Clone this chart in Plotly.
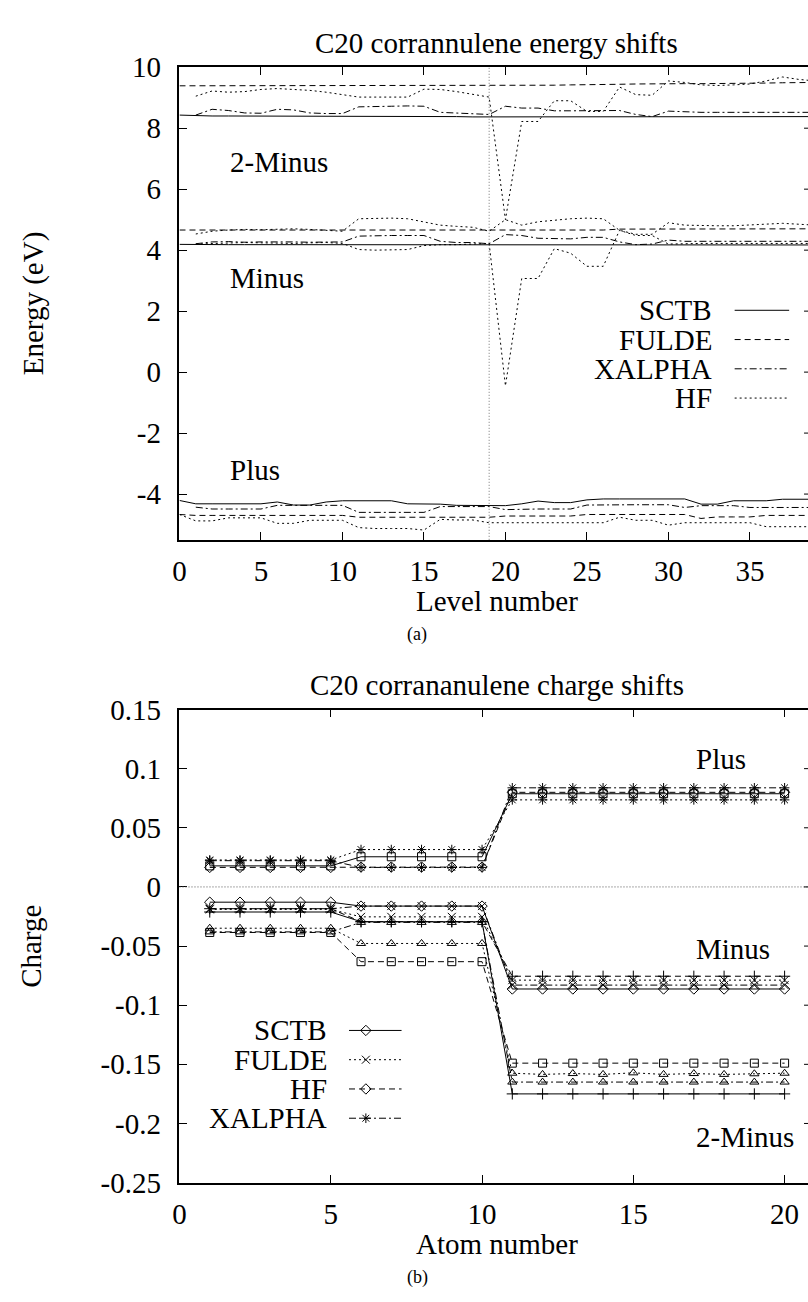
import plotly.graph_objects as go

FONT = "Liberation Serif, Times New Roman, serif"
FS = 29
W, H = 808, 1302

# ---------------- top panel data: energy shifts (eV) vs level number ----------------
levels = list(range(40))

sctb_plus = [-4.21, -4.32, -4.32, -4.32, -4.32, -4.32, -4.26, -4.36, -4.36, -4.26,
             -4.22, -4.22, -4.22, -4.22, -4.32, -4.33, -4.33, -4.37, -4.37, -4.37,
             -4.38, -4.32, -4.23, -4.28, -4.28, -4.19, -4.16, -4.16, -4.16, -4.16,
             -4.16, -4.16, -4.33, -4.33, -4.22, -4.22, -4.22, -4.17, -4.17, -4.17]
fulde_plus = [-4.67, -4.70, -4.70, -4.70, -4.70, -4.70, -4.70, -4.70, -4.70, -4.70,
              -4.70, -4.76, -4.76, -4.76, -4.76, -4.76, -4.76, -4.76, -4.76, -4.76,
              -4.72, -4.72, -4.72, -4.72, -4.72, -4.67, -4.67, -4.67, -4.67, -4.67,
              -4.67, -4.67, -4.80, -4.75, -4.75, -4.75, -4.70, -4.70, -4.70, -4.70]
xalpha_plus = [None, -4.43, -4.49, -4.49, -4.49, -4.49, -4.37, -4.37, -4.37, -4.37,
               -4.37, -4.60, -4.60, -4.60, -4.60, -4.60, -4.41, -4.41, -4.41, -4.41,
               -4.51, -4.49, -4.49, -4.49, -4.49, -4.36, -4.35, -4.35, -4.35, -4.35,
               -4.35, -4.44, -4.38, -4.38, -4.38, -4.44, -4.44, -4.44, -4.44, -4.44]
hf_plus = [-4.67, -4.88, -4.88, -4.78, -4.78, -4.78, -4.96, -4.96, -4.86, -4.86,
           -4.86, -5.10, -5.13, -5.13, -5.13, -5.18, -4.83, -4.85, -4.85, -4.94,
           -4.94, -4.94, -4.94, -4.94, -4.94, -4.94, -4.94, -4.76, -4.86, -4.86,
           -5.02, -4.94, -4.94, -4.94, -4.94, -4.94, -5.07, -5.07, -5.07, -5.07]

sctb_minus = [4.19, 4.18, 4.18, 4.18, 4.18, 4.18, 4.18, 4.18, 4.18, 4.18,
              4.18, 4.18, 4.18, 4.17, 4.17, 4.17, 4.17, 4.17, 4.17, 4.17,
              4.16, 4.16, 4.16, 4.16, 4.16, 4.17, 4.17, 4.17, 4.17, 4.17,
              4.17, 4.17, 4.17, 4.17, 4.17, 4.17, 4.17, 4.17, 4.17, 4.17]
fulde_minus = [4.66, 4.66, 4.66, 4.66, 4.66, 4.66, 4.66, 4.66, 4.66, 4.66,
               4.66, 4.66, 4.66, 4.66, 4.66, 4.66, 4.66, 4.66, 4.66, 4.66,
               4.66, 4.66, 4.66, 4.66, 4.66, 4.66, 4.66, 4.69, 4.69, 4.69,
               4.69, 4.69, 4.69, 4.69, 4.69, 4.69, 4.70, 4.70, 4.70, 4.70]
xalpha_minus = [None, 4.21, 4.27, 4.28, 4.26, 4.27, 4.28, 4.27, 4.26, 4.27,
                4.27, 4.46, 4.48, 4.48, 4.48, 4.48, 4.29, 4.25, 4.25, 4.21,
                4.51, 4.48, 4.39, 4.39, 4.37, 4.42, 4.42, 4.27, 4.18, 4.20,
                4.33, 4.29, 4.29, 4.29, 4.29, 4.29, 4.29, 4.29, 4.29, 4.29]
hf_minus = [None, 4.20, 4.22, 4.24, 4.25, 4.24, 4.22, 4.22, 4.24, 4.25,
            4.22, 4.02, 4.00, 4.00, 4.02, 4.15, 4.18, 4.18, 4.20, 4.22,
            -0.45, 3.07, 3.07, 4.05, 3.90, 3.47, 3.47, 4.65, 4.48, 4.48,
            4.20, 4.22, 4.22, 4.22, 4.22, 4.22, 4.22, 4.22, 4.22, 4.22]
hf_minus_upper = [None, 4.53, 4.62, 4.66, 4.68, 4.67, 4.69, 4.70, 4.68, 4.66,
                  4.62, 5.03, 5.05, 5.05, 5.03, 4.93, 4.82, 4.78, 4.75, 4.62,
                  5.00, 4.82, 4.93, 4.98, 5.03, 5.05, 5.03, 4.65, 4.52, 4.52,
                  4.90, 4.82, 4.80, 4.80, 4.80, 4.82, 4.85, 4.88, 4.85, 4.82]

sctb_2minus = [8.43, 8.41, 8.40, 8.40, 8.40, 8.39, 8.39, 8.39, 8.39, 8.39,
               8.38, 8.39, 8.39, 8.39, 8.38, 8.38, 8.38, 8.38, 8.37, 8.37,
               8.36, 8.36, 8.36, 8.36, 8.36, 8.36, 8.36, 8.36, 8.36, 8.36,
               8.36, 8.37, 8.37, 8.37, 8.37, 8.38, 8.38, 8.38, 8.38, 8.38]
fulde_2minus = [9.39, 9.39, 9.39, 9.39, 9.39, 9.39, 9.39, 9.39, 9.39, 9.39,
                9.39, 9.39, 9.39, 9.39, 9.39, 9.39, 9.39, 9.39, 9.39, 9.39,
                9.40, 9.40, 9.41, 9.41, 9.42, 9.42, 9.43, 9.44, 9.45, 9.46,
                9.46, 9.46, 9.46, 9.46, 9.46, 9.47, 9.48, 9.49, 9.49, 9.50]
xalpha_2minus = [None, 8.43, 8.62, 8.58, 8.50, 8.49, 8.62, 8.60, 8.50, 8.48,
                 8.48, 8.70, 8.72, 8.72, 8.73, 8.72, 8.52, 8.50, 8.49, 8.45,
                 8.72, 8.66, 8.66, 8.57, 8.57, 8.57, 8.57, 8.58, 8.45, 8.38,
                 8.56, 8.53, 8.52, 8.52, 8.52, 8.52, 8.52, 8.52, 8.52, 8.52]
hf_2minus = [None, 9.05, 9.22, 9.18, 9.20, 9.27, 9.30, 9.27, 9.24, 9.18,
             9.10, 9.02, 9.02, 9.02, 9.02, 9.28, 9.27, 9.20, 9.10, 9.02,
             5.00, 8.22, 8.22, 8.90, 8.90, 8.55, 8.55, 9.35, 9.10, 9.08,
             9.55, 9.50, 9.42, 9.40, 9.42, 9.45, 9.55, 9.68, 9.60, 9.55]

level_ticks = [0, 5, 10, 15, 20, 25, 30, 35]
energy_ticks = [-4, -2, 0, 2, 4, 6, 8, 10]
energy_tick_text = ["-4", "-2", "0", "2", "4", "6", "8", "10"]

# ---------------- bottom panel data: charge shifts vs atom number ----------------
atoms = list(range(1, 21))

sctb_plus_q = [0.0178, 0.0178, 0.0178, 0.0178, 0.0178, 0.0255, 0.0255, 0.0255, 0.0255, 0.0255,
               0.0788, 0.0788, 0.0788, 0.0788, 0.0788, 0.0788, 0.0788, 0.0788, 0.0788, 0.0788]
fulde_plus_q = [0.0228, 0.0228, 0.0228, 0.0228, 0.0228, 0.0316, 0.0316, 0.0316, 0.0316, 0.0316,
                0.0736, 0.0736, 0.0736, 0.0736, 0.0736, 0.0736, 0.0736, 0.0736, 0.0736, 0.0736]
hf_plus_q = [0.0165, 0.0165, 0.0165, 0.0165, 0.0165, 0.0168, 0.0168, 0.0168, 0.0168, 0.0168,
             0.0800, 0.0800, 0.0800, 0.0800, 0.0800, 0.0800, 0.0800, 0.0800, 0.0800, 0.0800]
xalpha_plus_q = [0.0222, 0.0222, 0.0222, 0.0222, 0.0222, 0.0165, 0.0165, 0.0165, 0.0165, 0.0165,
                 0.0838, 0.0838, 0.0838, 0.0838, 0.0838, 0.0838, 0.0838, 0.0838, 0.0838, 0.0838]

sctb_minus_q = [-0.0129, -0.0129, -0.0129, -0.0129, -0.0129, -0.0162, -0.0162, -0.0162, -0.0162, -0.0162,
                -0.0863, -0.0863, -0.0863, -0.0863, -0.0863, -0.0863, -0.0863, -0.0863, -0.0863, -0.0863]
fulde_minus_q = [-0.0190, -0.0190, -0.0190, -0.0190, -0.0190, -0.0253, -0.0253, -0.0253, -0.0253, -0.0253,
                 -0.0788, -0.0788, -0.0788, -0.0788, -0.0788, -0.0788, -0.0788, -0.0788, -0.0788, -0.0788]
hf_minus_q = [-0.0184, -0.0184, -0.0184, -0.0184, -0.0184, -0.0294, -0.0294, -0.0294, -0.0294, -0.0294,
              -0.0755, -0.0755, -0.0755, -0.0755, -0.0755, -0.0755, -0.0755, -0.0755, -0.0755, -0.0755]
xalpha_minus_q = [-0.0184, -0.0184, -0.0184, -0.0184, -0.0184, -0.0162, -0.0162, -0.0162, -0.0162, -0.0162,
                  -0.0830, -0.0830, -0.0830, -0.0830, -0.0830, -0.0830, -0.0830, -0.0830, -0.0830, -0.0830]

sctb_2minus_q = [-0.0212, -0.0212, -0.0212, -0.0212, -0.0212, -0.0294, -0.0294, -0.0294, -0.0294, -0.0294,
                 -0.1750, -0.1750, -0.1750, -0.1750, -0.1750, -0.1750, -0.1750, -0.1750, -0.1750, -0.1750]
fulde_2minus_q = [-0.0349, -0.0349, -0.0349, -0.0349, -0.0349, -0.0478, -0.0478, -0.0478, -0.0478, -0.0478,
                  -0.1575, -0.1585, -0.1578, -0.1585, -0.1572, -0.1585, -0.1578, -0.1585, -0.1580, -0.1575]
hf_2minus_q = [-0.0385, -0.0385, -0.0385, -0.0385, -0.0385, -0.0632, -0.0632, -0.0632, -0.0632, -0.0632,
               -0.1490, -0.1490, -0.1490, -0.1490, -0.1490, -0.1490, -0.1490, -0.1490, -0.1490, -0.1490]
xalpha_2minus_q = [-0.0380, -0.0380, -0.0380, -0.0380, -0.0380, -0.0300, -0.0300, -0.0300, -0.0300, -0.0300,
                   -0.1650, -0.1650, -0.1650, -0.1650, -0.1650, -0.1650, -0.1650, -0.1650, -0.1650, -0.1650]

atom_ticks = [0, 5, 10, 15, 20]
charge_ticks = [0.15, 0.1, 0.05, 0, -0.05, -0.1, -0.15, -0.2, -0.25]
charge_tick_text = ["0.15", "0.1", "0.05", "0", "-0.05", "-0.1", "-0.15", "-0.2", "-0.25"]

methods = ["SCTB", "FULDE", "XALPHA", "HF"]
methods_b = ["SCTB", "FULDE", "HF", "XALPHA"]

# ---------------- styles ----------------
DASH_SOLID = "solid"
DASH_DASHED = "6px,4px"
DASH_DOTTED = "2px,3px"
DASH_DASHDOT = "7px,3px,2px,3px"
top_dash = {"SCTB": DASH_SOLID, "FULDE": DASH_DASHED, "XALPHA": DASH_DASHDOT, "HF": DASH_DOTTED}
bot_dash = {"SCTB": DASH_SOLID, "FULDE": DASH_DOTTED, "HF": DASH_DASHED, "XALPHA": DASH_DASHDOT}
legend_marker_b = {"SCTB": "diamond-open", "FULDE": "x-thin-open", "HF": "diamond-open", "XALPHA": "asterisk-open"}
MS = 8

# ---------------- geometry (pixels) ----------------
X0 = 174
TOP_T, TOP_B = 52.5, 537
BOT_T, BOT_B = 711, 1196
CX = 494


def px(x):
    return x / W


def py(y):
    return 1 - y / H


fig = go.Figure()

top_series = [
    ("SCTB", sctb_plus), ("SCTB", sctb_minus), ("SCTB", sctb_2minus),
    ("FULDE", fulde_plus), ("FULDE", fulde_minus), ("FULDE", fulde_2minus),
    ("XALPHA", xalpha_plus), ("XALPHA", xalpha_minus), ("XALPHA", xalpha_2minus),
    ("HF", hf_plus), ("HF", hf_minus), ("HF", hf_minus_upper), ("HF", hf_2minus),
]
for name, vals in top_series:
    fig.add_trace(go.Scatter(
        x=levels, y=vals, mode="lines", name=name, showlegend=False,
        line=dict(color="black", width=1, dash=top_dash[name]),
        xaxis="x", yaxis="y", connectgaps=False, hoverinfo="skip"))

bot_series = [
    ("SCTB", sctb_plus_q, "square-open"), ("FULDE", fulde_plus_q, "asterisk-open"),
    ("HF", hf_plus_q, "diamond-open"), ("XALPHA", xalpha_plus_q, "asterisk-open"),
    ("SCTB", sctb_minus_q, "diamond-open"), ("FULDE", fulde_minus_q, "x-thin-open"),
    ("HF", hf_minus_q, "cross-thin-open"), ("XALPHA", xalpha_minus_q, "x-thin-open"),
    ("SCTB", sctb_2minus_q, "cross-thin-open"), ("FULDE", fulde_2minus_q, "triangle-up-open"),
    ("HF", hf_2minus_q, "square-open"), ("XALPHA", xalpha_2minus_q, "triangle-up-open"),
]
for name, vals, sym in bot_series:
    fig.add_trace(go.Scatter(
        x=atoms, y=vals, mode="lines+markers", name=name, showlegend=False,
        line=dict(color="black", width=1, dash=bot_dash[name]),
        marker=dict(symbol=sym, size=MS, color="black", line=dict(width=1, color="black")),
        xaxis="x2", yaxis="y2", hoverinfo="skip"))

# legend sample markers (overlay pixel axis)
leg_b_rows = [1040, 1070, 1100, 1130]
fig.add_trace(go.Scatter(
    x=[362, 362, 362, 362], y=leg_b_rows, mode="markers", showlegend=False,
    marker=dict(symbol=[legend_marker_b[m] for m in methods_b], size=MS, color="black",
                line=dict(width=1, color="black")),
    xaxis="x3", yaxis="y3", hoverinfo="skip"))

axis_common = dict(showline=True, linecolor="black", linewidth=1.5, ticks="inside",
                   ticklen=8, tickwidth=1, tickcolor="black", showgrid=False, zeroline=False,
                   tickfont=dict(family=FONT, size=FS, color="black"))

top_dom_y = [py(TOP_B), py(TOP_T)]
bot_dom_y = [py(BOT_B), py(BOT_T)]
x_dom = [px(X0), 1.0]

top_xmax = (W - X0) / 16.44
bot_xmax = (W - X0) / 30.52

fig.update_layout(
    width=W, height=H, margin=dict(l=0, r=0, t=0, b=0),
    paper_bgcolor="white", plot_bgcolor="rgba(0,0,0,0)",
    font=dict(family=FONT, size=FS, color="black"),
    xaxis=dict(domain=x_dom, anchor="y", range=[0, top_xmax], tickvals=level_ticks,
               mirror="ticks", ticklabelstandoff=5, **axis_common),
    yaxis=dict(domain=top_dom_y, anchor="x", range=[-5.5, 10], tickvals=energy_ticks,
               ticktext=energy_tick_text, ticklabelstandoff=11, **axis_common),
    xaxis2=dict(domain=x_dom, anchor="y2", range=[0, bot_xmax], tickvals=atom_ticks,
                mirror="ticks", ticklabelstandoff=5, **axis_common),
    yaxis2=dict(domain=bot_dom_y, anchor="x2", range=[-0.25, 0.15], tickvals=charge_ticks,
                ticktext=charge_tick_text, ticklabelstandoff=11, **axis_common),
    xaxis3=dict(domain=[0, 1], anchor="y3", range=[0, W], visible=False, fixedrange=True),
    yaxis3=dict(domain=[0, 1], anchor="x3", range=[H, 0], visible=False, fixedrange=True),
)

shapes = []
shapes.append(dict(type="line", xref="x", yref="paper", x0=19, x1=19, y0=py(TOP_B), y1=py(TOP_T),
                   line=dict(color="#777777", width=1, dash="1px,2px")))
shapes.append(dict(type="line", xref="paper", yref="y2", x0=px(X0), x1=1.0, y0=0, y1=0,
                   line=dict(color="#555555", width=1, dash="1px,2px")))

# stubs of the right-hand mirror ticks (the frame itself lies just beyond the crop)
for v in energy_ticks[:-1]:
    shapes.append(dict(type="line", xref="paper", yref="y", x0=px(804), x1=1.0, y0=v, y1=v,
                       line=dict(color="black", width=1)))
for v in charge_ticks[1:-1]:
    shapes.append(dict(type="line", xref="paper", yref="y2", x0=px(804), x1=1.0, y0=v, y1=v,
                       line=dict(color="black", width=1)))

leg_a_rows = [301.7, 331.7, 361.7, 391.7]
for m, yy in zip(methods, leg_a_rows):
    shapes.append(dict(type="line", xref="paper", yref="paper", x0=px(734), x1=px(789),
                       y0=py(yy), y1=py(yy), line=dict(color="black", width=1, dash=top_dash[m])))
for m, yy in zip(methods_b, leg_b_rows):
    shapes.append(dict(type="line", xref="paper", yref="paper", x0=px(345), x1=px(398),
                       y0=py(yy), y1=py(yy), line=dict(color="black", width=1, dash=bot_dash[m])))
fig.update_layout(shapes=shapes)

ann = []


def text(t, x, y, size=FS, xanchor="center", angle=0):
    ann.append(dict(text=t, xref="paper", yref="paper", x=px(x), y=py(y), showarrow=False,
                    xanchor=xanchor, yanchor="middle", textangle=angle,
                    font=dict(family=FONT, size=size, color="black")))


text("C20 corrannulene energy shifts", CX, 28)
text("Energy (eV)", 27, (TOP_T + TOP_B) / 2, angle=-90)
text("Level number", CX, 600)
text("(a)", 414, 634, size=18)
text("C20 corrananulene charge shifts", CX, 686)
text("Charge", 24, (BOT_T + BOT_B) / 2, angle=-90)
text("Atom number", CX, 1259)
text("(b)", 414, 1293, size=18)

for m, yy in zip(methods, leg_a_rows):
    text(m, 713, yy, xanchor="right")
for m, yy in zip(methods_b, leg_b_rows):
    text(m, 325, yy, xanchor="right")

for t, xv, yv in [("2-Minus", 3, 6.9), ("Minus", 3, 3.1), ("Plus", 3, -3.2)]:
    ann.append(dict(text=t, xref="x", yref="y", x=xv, y=yv, showarrow=False, xanchor="left",
                    yanchor="middle", font=dict(family=FONT, size=FS, color="black")))
for t, xv, yv in [("Plus", 17, 0.1085), ("Minus", 17, -0.0523), ("2-Minus", 17, -0.2117)]:
    ann.append(dict(text=t, xref="x2", yref="y2", x=xv, y=yv, showarrow=False, xanchor="left",
                    yanchor="middle", font=dict(family=FONT, size=FS, color="black")))
fig.update_layout(annotations=ann)

fig.write_html("out.html", config={"displayModeBar": False},
               post_script="document.body.style.margin='0';document.body.style.overflow='hidden';")
